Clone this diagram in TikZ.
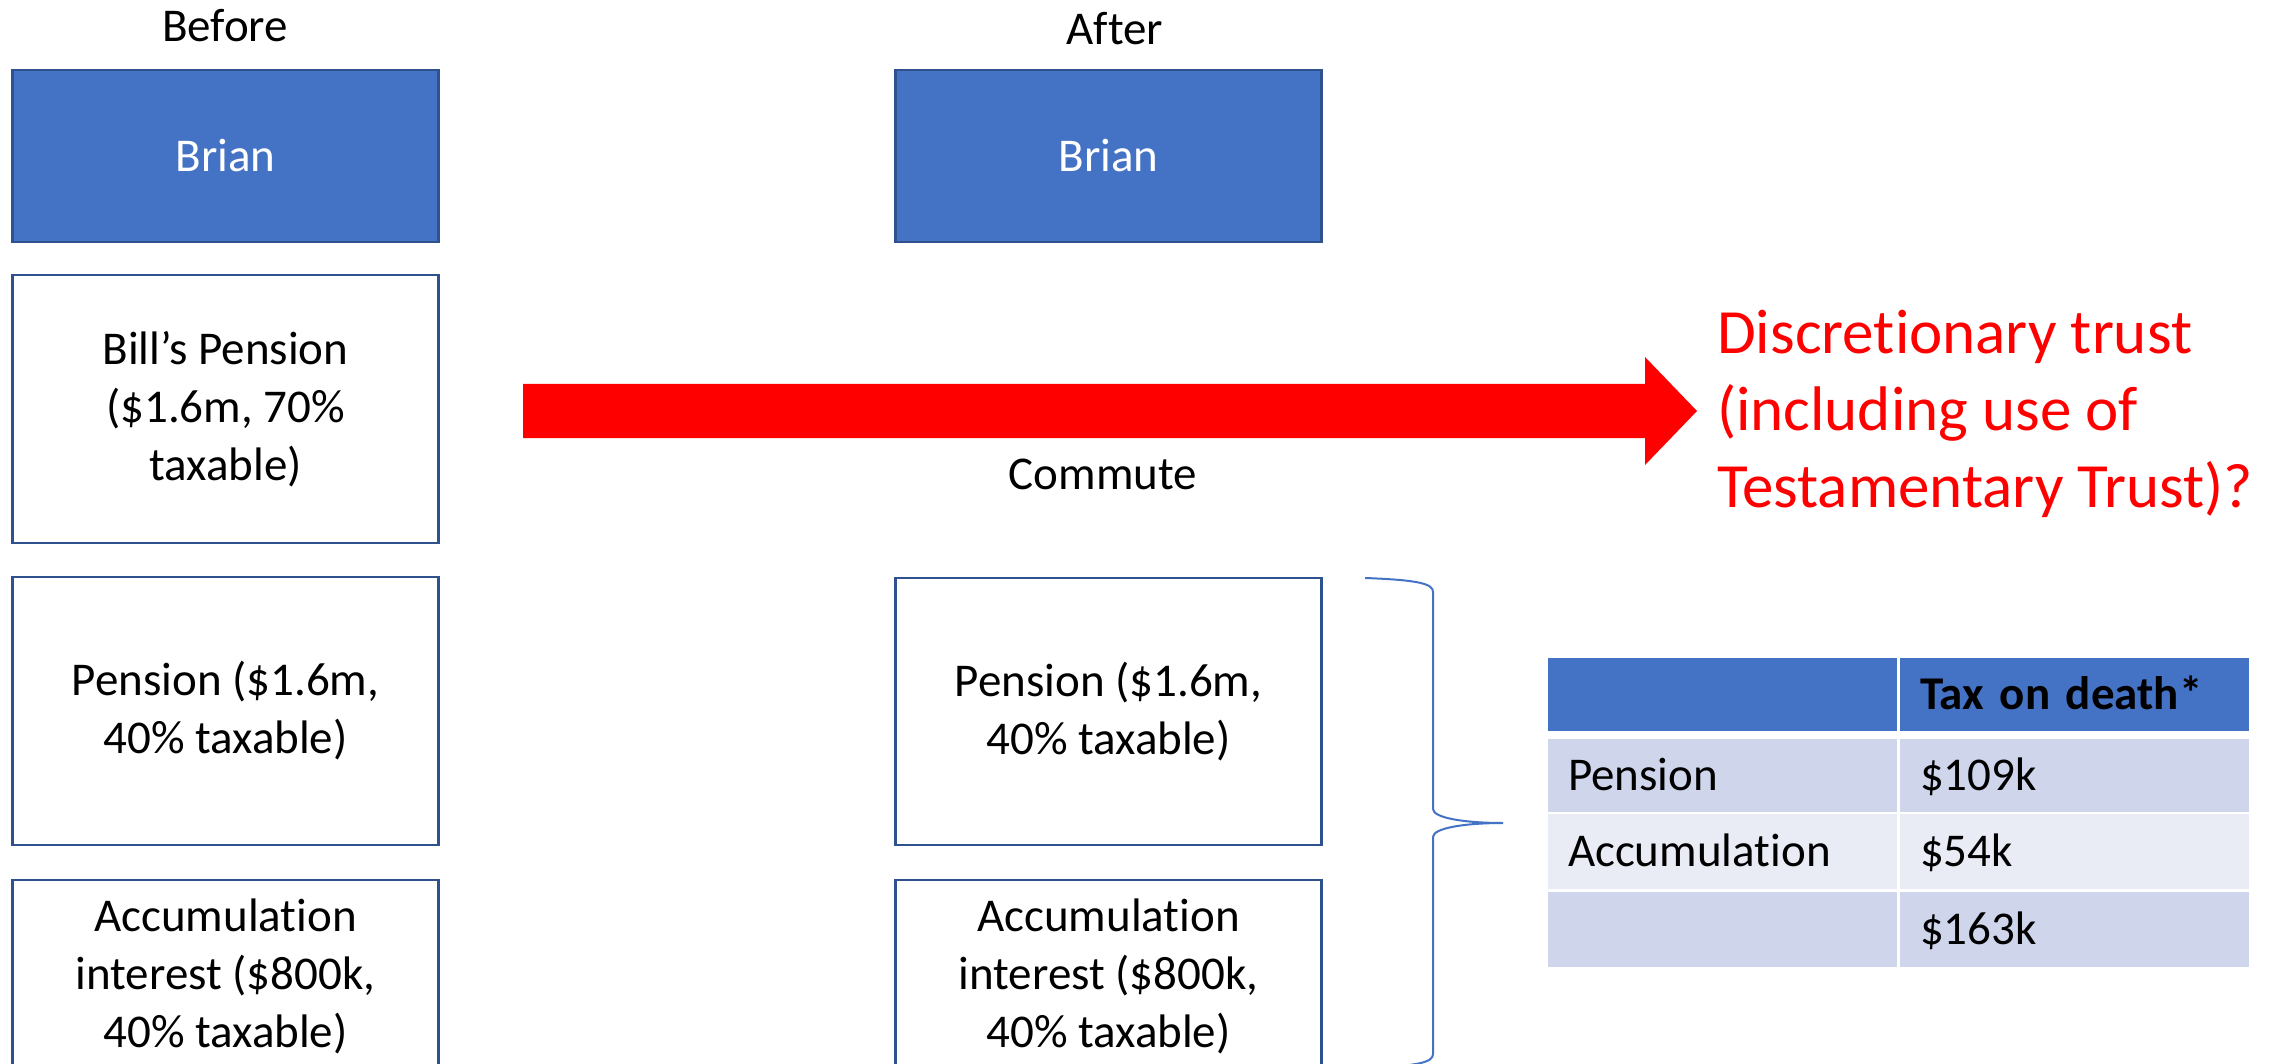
\documentclass[tikz,border=0pt]{standalone}
\usepackage{fontspec}
\setmainfont{Carlito}[Ligatures={TeX,NoCommon,NoContextual,NoRequired}, Contextuals=NoAlternate]
\newcommand{\tinolig}{t\kern0pt i}
\definecolor{officeblue}{HTML}{4472C4}
\definecolor{boxedge}{HTML}{2F528F}
\definecolor{rowdark}{HTML}{CFD5EA}
\definecolor{rowlight}{HTML}{E9EBF5}
\definecolor{pptred}{HTML}{FF0000}
\begin{document}
\begin{tikzpicture}[x=1pt,y=-1pt,
  bodyfont/.style={font=\fontsize{47}{58}\selectfont},
  title/.style={bodyfont, inner sep=0pt, anchor=base},
  bluebox/.style={bodyfont, draw=boxedge, line width=2.4pt, fill=officeblue, text=white,
    minimum width=426pt, minimum height=172pt, inner sep=0pt},
  whitebox/.style={bodyfont, draw=boxedge, line width=2.4pt, fill=white, align=center,
    minimum width=426pt, inner sep=0pt},
  cell/.style={bodyfont, inner xsep=20pt, inner ysep=0pt, text width=309pt, align=left,
    text height=30pt, text depth=0pt, minimum width=349pt},
  bracestyle/.style={draw=officeblue, line width=2pt},
]
\path[use as bounding box, fill=white] (0,0) rectangle (2284,1064);

% column titles
\node[title] (before) at (225,42) {Before};
\node[title] (after) at (1115,45) {After};

% before column
\node[bluebox] (brianB) at (225.5,156) {Brian};
\node[whitebox, minimum height=268pt] (bill) at (225.5,409) {Bill’s Pension\\(\$1.6m, 70\%\\taxable)};
\node[whitebox, minimum height=268pt] (pensB) at (225.5,711) {Pension (\$1.6m,\\40\% taxable)};
\node[whitebox, minimum height=192pt] (accB) at (225.5,976) {Accumula\tinolig on\\interest (\$800k,\\40\% taxable)};

% after column
\node[bluebox] (brianA) at (1108.5,156) {Brian};
\node[whitebox, minimum height=267pt] (pensA) at (1108.5,711.5) {Pension (\$1.6m,\\40\% taxable)};
\node[whitebox, minimum height=192pt] (accA) at (1108.5,976) {Accumula\tinolig on\\interest (\$800k,\\40\% taxable)};

% red block arrow
\coordinate (arrS) at (523,411);
\coordinate (arrT) at (1697,411);
\fill[pptred] (523,384) -- (1645,384) -- (1645,357) -- (arrT) -- (1645,465) -- (1645,438) -- (523,438) -- cycle;
\node[bodyfont, inner sep=0pt] (commute) at (1103,474) {Commute};

% red question (base anchor = last line's baseline)
\node[font=\fontsize{63}{77}\selectfont, text=pptred, align=left, anchor=base west, inner sep=0pt]
  (trust) at (1717,507) {Discre\tinolig onary trust\\(including use of\\Testamentary Trust)?};

% brace
\coordinate (braceTip) at (1503,823);
\draw[bracestyle] (1365,578) .. controls (1420,580) and (1433,584) .. (1433,592)
  -- (1433,809) .. controls (1433,818) and (1465,823) .. (braceTip)
  .. controls (1465,823) and (1433,828) .. (1433,837)
  -- (1433,1054) .. controls (1433,1062) and (1420,1066) .. (1365,1068);

% table
\node[cell, fill=officeblue, minimum height=73pt] (h1) at (1722.5,694.5) {};
\node[cell, fill=officeblue, minimum height=73pt] (h2) at (2074.5,694.5) {\bfseries Tax on death*};
\node[cell, fill=rowdark, minimum height=73pt] (r1a) at (1722.5,775.5) {Pension};
\node[cell, fill=rowdark, minimum height=73pt] (r1b) at (2074.5,775.5) {\$109k};
\node[cell, fill=rowlight, minimum height=75pt] (r2a) at (1722.5,851.5) {Accumula\tinolig on};
\node[cell, fill=rowlight, minimum height=75pt] (r2b) at (2074.5,851.5) {\$54k};
\node[cell, fill=rowdark, minimum height=75pt] (r3a) at (1722.5,929.5) {};
\node[cell, fill=rowdark, minimum height=75pt] (r3b) at (2074.5,929.5) {\$163k};
\end{tikzpicture}
\end{document}
